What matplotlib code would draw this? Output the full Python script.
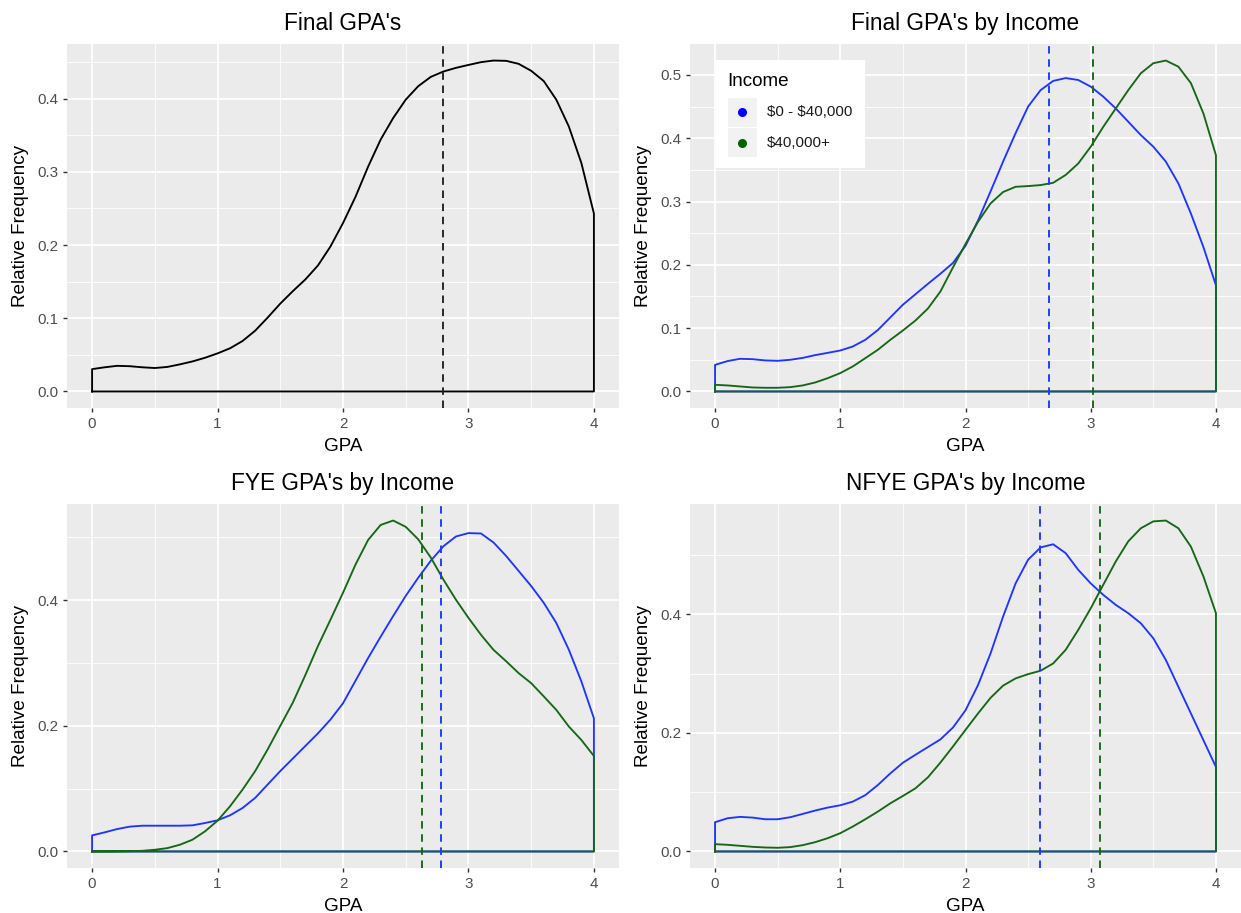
import numpy as np
import matplotlib
matplotlib.use("Agg")
import matplotlib.pyplot as plt
from matplotlib.patches import Rectangle
from matplotlib.ticker import FormatStrFormatter

plt.rcParams['font.family'] = ['Liberation Sans', 'DejaVu Sans']

# ---------------- data ----------------
gpa_grid = [0.0, 0.1, 0.2, 0.3, 0.4, 0.5, 0.6, 0.7, 0.8, 0.9,
            1.0, 1.1, 1.2, 1.3, 1.4, 1.5, 1.6, 1.7, 1.8, 1.9,
            2.0, 2.1, 2.2, 2.3, 2.4, 2.5, 2.6, 2.7, 2.8, 2.9,
            3.0, 3.1, 3.2, 3.3, 3.4, 3.5, 3.6, 3.7, 3.8, 3.9, 4.0]

final_all = [0.0305, 0.033, 0.035, 0.0345, 0.033, 0.032, 0.0335, 0.037, 0.041, 0.046,
             0.052, 0.059, 0.069, 0.083, 0.101, 0.120, 0.137, 0.153, 0.172, 0.198,
             0.230, 0.266, 0.307, 0.344, 0.3735, 0.3986, 0.417, 0.4297, 0.437, 0.442,
             0.446, 0.4498, 0.452, 0.4516, 0.4475, 0.438, 0.424, 0.3986, 0.362, 0.312, 0.243]

final_low = [0.042, 0.048, 0.0516, 0.051, 0.049, 0.0484, 0.050, 0.053, 0.0574, 0.061,
             0.0647, 0.071, 0.0816, 0.097, 0.117, 0.137, 0.1535, 0.170, 0.186, 0.203,
             0.230, 0.270, 0.316, 0.363, 0.408, 0.450, 0.476, 0.4905, 0.495, 0.492,
             0.4815, 0.4657, 0.447, 0.426, 0.405, 0.3866, 0.363, 0.3286, 0.281, 0.228, 0.1677]
final_high = [0.0105, 0.0095, 0.0079, 0.0063, 0.0058, 0.0058, 0.0068, 0.0095, 0.0142, 0.021,
              0.029, 0.0395, 0.0526, 0.0658, 0.0816, 0.0963, 0.112, 0.131, 0.158, 0.196,
              0.233, 0.268, 0.297, 0.315, 0.3233, 0.3244, 0.326, 0.3296, 0.342, 0.360,
              0.3866, 0.418, 0.447, 0.476, 0.5026, 0.5185, 0.5227, 0.513, 0.487, 0.439, 0.373]

fye_low = [0.0256, 0.0304, 0.0357, 0.0395, 0.041, 0.041, 0.041, 0.041, 0.0416, 0.0453,
           0.0496, 0.0576, 0.0693, 0.0853, 0.1067, 0.128, 0.148, 0.168, 0.188, 0.210,
           0.236, 0.272, 0.308, 0.342, 0.375, 0.407, 0.436, 0.463, 0.486, 0.5016,
           0.507, 0.5064, 0.492, 0.4707, 0.4467, 0.4227, 0.396, 0.364, 0.3214, 0.2708, 0.212]
fye_high = [0.0, 0.0, 0.0002, 0.0005, 0.001, 0.0027, 0.0053, 0.0107, 0.0187, 0.032,
            0.049, 0.072, 0.0987, 0.128, 0.1627, 0.200, 0.237, 0.281, 0.327, 0.369,
            0.412, 0.457, 0.496, 0.520, 0.527, 0.517, 0.497, 0.468, 0.433, 0.401,
            0.372, 0.345, 0.321, 0.303, 0.284, 0.268, 0.247, 0.2255, 0.199, 0.1775, 0.152]

nfye_low = [0.0493, 0.056, 0.0583, 0.0571, 0.0543, 0.0543, 0.0577, 0.0633, 0.069, 0.074,
            0.0779, 0.084, 0.095, 0.112, 0.1317, 0.1496, 0.163, 0.176, 0.189, 0.209,
            0.238, 0.2806, 0.334, 0.396, 0.452, 0.492, 0.5127, 0.518, 0.503, 0.475,
            0.452, 0.4327, 0.4158, 0.4017, 0.3848, 0.3594, 0.3228, 0.2777, 0.2327, 0.1876, 0.1425]
nfye_high = [0.0123, 0.0112, 0.0095, 0.0078, 0.0067, 0.0062, 0.0073, 0.0106, 0.0157, 0.0224,
             0.0308, 0.042, 0.0543, 0.0672, 0.0812, 0.0936, 0.1064, 0.125, 0.150, 0.177,
             0.205, 0.2327, 0.259, 0.2796, 0.2918, 0.299, 0.3048, 0.317, 0.340, 0.3735,
             0.410, 0.4496, 0.489, 0.523, 0.545, 0.5566, 0.558, 0.545, 0.514, 0.4637, 0.4017]

mean_final_all = 2.797
mean_final = [2.668, 3.018]   # low, high income
mean_fye = [2.780, 2.632]
mean_nfye = [2.596, 3.074]

titles = ["Final GPA's", "Final GPA's by Income", "FYE GPA's by Income", "NFYE GPA's by Income"]
income_levels = ["$0 - $40,000", "$40,000+"]
legend_title = "Income"
x_label = "GPA"
y_label = "Relative Frequency"
x_ticks = [0, 1, 2, 3, 4]
y_ticks_list = [[0.0, 0.1, 0.2, 0.3, 0.4],
                [0.0, 0.1, 0.2, 0.3, 0.4, 0.5],
                [0.0, 0.2, 0.4],
                [0.0, 0.2, 0.4]]
y_minor_list = [[0.05, 0.15, 0.25, 0.35, 0.45],
                [0.05, 0.15, 0.25, 0.35, 0.45],
                [0.1, 0.3, 0.5],
                [0.1, 0.3, 0.5]]

# ---------------- styling ----------------
BLUE = "#1f35ff"
GREEN = "#176617"
W, H = 1241, 913
fig = plt.figure(figsize=(W / 100, H / 100), dpi=100)
fig.patch.set_facecolor("white")

panel_px = [(67, 619, 44, 408), (690, 1241, 44, 408),
            (67, 619, 504, 868), (690, 1241, 504, 868)]


def add_panel(l, r, t, b):
    return fig.add_axes([l / W, 1 - b / H, (r - l) / W, (b - t) / H])


def style(ax, title, yticks, yminor, ymax):
    ax.set_facecolor("#EBEBEB")
    for s in ax.spines.values():
        s.set_visible(False)
    ax.set_xlim(-0.2, 4.2)
    ax.set_ylim(-0.05 * ymax, 1.05 * ymax)
    ax.set_xticks(x_ticks)
    ax.set_xticklabels([str(t) for t in x_ticks])
    ax.set_xticks([0.5, 1.5, 2.5, 3.5], minor=True)
    ax.set_yticks(yticks)
    ax.set_yticks(yminor, minor=True)
    ax.yaxis.set_major_formatter(FormatStrFormatter('%.1f'))
    ax.grid(which='major', color='white', lw=1.25)
    ax.grid(which='minor', color='white', lw=0.6)
    ax.set_axisbelow(True)
    ax.tick_params(which='major', length=3.2, width=1.0, color='#333333',
                   labelsize=10.9, labelcolor='#4D4D4D', pad=3)
    ax.tick_params(which='minor', length=0)
    ax.set_xlabel(x_label, fontsize=13.6, labelpad=5)
    ax.set_ylabel(y_label, fontsize=13.6, labelpad=6)
    ax.set_title(title, fontsize=16.3, pad=10)


def density(ax, x, y, color):
    xs = np.concatenate([[x[0]], x, [x[-1], x[0]]])
    ys = np.concatenate([[0.0], y, [0.0, 0.0]])
    ax.plot(xs, ys, color=color, lw=1.35, solid_joinstyle='round', zorder=3)


def vmean(ax, x, color):
    ax.axvline(x, color=color, lw=1.35, dashes=(4, 3), zorder=4)


x = np.array(gpa_grid)

# Panel 1
ax1 = add_panel(*panel_px[0])
style(ax1, titles[0], y_ticks_list[0], y_minor_list[0], max(final_all))
density(ax1, x, np.array(final_all), "black")
vmean(ax1, mean_final_all, "#222222")

# Panel 2
ax2 = add_panel(*panel_px[1])
style(ax2, titles[1], y_ticks_list[1], y_minor_list[1], max(max(final_low), max(final_high)))
density(ax2, x, np.array(final_low), BLUE)
density(ax2, x, np.array(final_high), GREEN)
vmean(ax2, mean_final[0], BLUE)
vmean(ax2, mean_final[1], GREEN)

# Panel 3
ax3 = add_panel(*panel_px[2])
style(ax3, titles[2], y_ticks_list[2], y_minor_list[2], max(max(fye_low), max(fye_high)))
density(ax3, x, np.array(fye_low), BLUE)
density(ax3, x, np.array(fye_high), GREEN)
vmean(ax3, mean_fye[0], BLUE)
vmean(ax3, mean_fye[1], GREEN)

# Panel 4
ax4 = add_panel(*panel_px[3])
style(ax4, titles[3], y_ticks_list[3], y_minor_list[3], max(max(nfye_low), max(nfye_high)))
density(ax4, x, np.array(nfye_low), BLUE)
density(ax4, x, np.array(nfye_high), GREEN)
vmean(ax4, mean_nfye[0], BLUE)
vmean(ax4, mean_nfye[1], GREEN)

# ---------------- legend (ggplot style, inside panel 2) ----------------
def fx(px):
    return px / W


def fy(py):
    return 1 - py / H


fig.add_artist(Rectangle((fx(716), fy(168)), (865 - 716) / W, (168 - 60) / H,
                         transform=fig.transFigure, facecolor="white", edgecolor="none", zorder=10))
fig.text(fx(727), fy(86), legend_title, fontsize=13.6, color="black", zorder=11)
key_tops = [98, 128]
key_colors = ["#0000FF", "#006400"]
for kt, col, lab in zip(key_tops, key_colors, income_levels):
    fig.add_artist(Rectangle((fx(728), fy(kt + 29)), 29 / W, 29 / H,
                             transform=fig.transFigure, facecolor="#F2F2F2",
                             edgecolor="none", zorder=11))
    fig.add_artist(plt.Line2D([fx(742.5)], [fy(kt + 14.5)], marker='o', markersize=5.5,
                              color=col, transform=fig.transFigure, zorder=12))
    fig.text(fx(767), fy(kt + 14.5), lab, fontsize=10.9, color="#1A1A1A",
             va='center', ha='left', parse_math=False, zorder=12)

fig.savefig("out.png", dpi=100)
